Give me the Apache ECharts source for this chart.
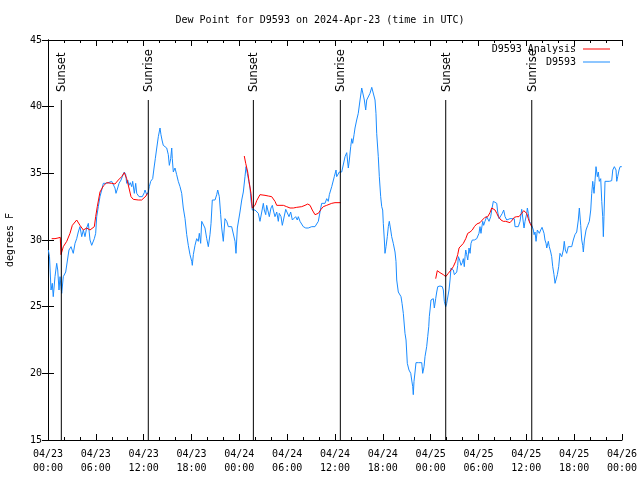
<!DOCTYPE html>
<html>
<head>
<meta charset="utf-8">
<script src="https://cdn.jsdelivr.net/npm/echarts@6/dist/echarts.min.js"></script>
<style>html,body{margin:0;padding:0;background:#fff;}#c{width:640px;height:480px;}</style>
</head>
<body>
<div id="c"></div>
<script>
// Hours since 2024-04-23 00:00 UTC
const tickLabels = ['04/23\n00:00','04/23\n06:00','04/23\n12:00','04/23\n18:00','04/24\n00:00','04/24\n06:00','04/24\n12:00','04/24\n18:00','04/25\n00:00','04/25\n06:00','04/25\n12:00','04/25\n18:00','04/26\n00:00'];
const sunHours = [1.67, 12.58, 25.76, 36.67, 49.89, 60.68];
const sunNames = ['Sunset','Sunrise','Sunset','Sunrise','Sunset','Sunrise'];

const obsHours = [0.04,0.19,0.38,0.54,0.66,0.88,1.09,1.22,1.38,1.51,1.63,1.72,1.92,2.22,2.47,2.63,2.89,3.17,3.39,3.60,3.80,4.01,4.23,4.43,4.64,4.85,5.06,5.27,5.48,5.81,5.98,6.11,6.31,6.52,6.74,6.94,7.15,7.36,7.56,7.99,8.19,8.40,8.53,8.74,8.91,9.16,9.32,9.57,9.75,9.87,10.00,10.16,10.32,10.50,10.62,10.83,11.00,11.13,11.42,11.67,11.83,12.08,12.17,12.38,12.58,12.71,12.88,13.13,13.30,13.46,13.64,13.84,14.05,14.17,14.30,14.46,14.68,14.89,15.09,15.22,15.39,15.52,15.59,15.72,15.93,16.06,16.14,16.34,16.56,16.77,16.97,17.19,17.40,17.60,17.81,18.03,18.10,18.23,18.44,18.65,18.85,18.98,19.15,19.28,19.48,19.69,19.91,20.11,20.32,20.45,20.61,20.95,21.16,21.29,21.49,21.66,21.79,21.99,22.20,22.42,22.62,23.04,23.24,23.46,23.58,23.75,24.08,24.30,24.50,24.71,24.84,25.00,25.13,25.34,25.46,25.63,25.76,25.97,26.18,26.38,26.59,26.81,27.01,27.13,27.31,27.43,27.63,27.76,27.97,28.14,28.26,28.47,28.69,28.89,29.01,29.23,29.39,29.64,29.82,30.07,30.23,30.44,30.65,30.86,31.07,31.27,31.40,31.61,31.82,32.02,32.33,32.65,33.08,33.28,33.49,33.71,33.91,34.12,34.33,34.53,34.75,34.96,35.16,35.29,35.50,35.59,35.79,35.91,36.13,36.21,36.42,36.54,36.84,37.04,37.26,37.47,37.67,37.80,37.97,38.10,38.22,38.39,38.51,38.72,38.92,39.14,39.35,39.55,39.68,39.85,39.98,40.18,40.39,40.61,40.81,41.02,41.14,41.23,41.43,41.56,41.73,41.86,41.98,42.06,42.19,42.27,42.40,42.56,42.69,42.81,42.99,43.11,43.31,43.53,43.65,43.74,43.94,44.15,44.28,44.41,44.57,44.78,44.91,45.07,45.28,45.50,45.62,45.75,45.82,45.91,46.04,46.16,46.45,46.88,47.00,47.17,47.29,47.50,47.63,47.76,47.83,47.92,48.04,48.33,48.46,48.63,48.76,48.89,49.17,49.46,49.59,49.71,49.89,50.01,50.14,50.30,50.43,50.55,50.72,50.84,50.97,51.14,51.27,51.39,51.47,51.64,51.81,51.97,52.10,52.22,52.31,52.40,52.52,52.65,52.81,52.94,53.06,53.22,53.48,53.56,53.78,53.90,54.06,54.19,54.31,54.40,54.53,54.65,54.81,55.03,55.16,55.32,55.53,55.66,55.86,56.07,56.29,56.41,56.58,56.82,56.99,57.16,57.33,57.54,57.74,57.95,58.17,58.49,58.58,58.79,58.99,59.21,59.42,59.71,59.84,60.05,60.13,60.25,60.38,60.55,60.68,60.88,60.97,61.09,61.22,61.38,61.50,61.63,61.80,61.97,62.13,62.22,62.34,62.47,62.56,62.76,62.88,63.06,63.18,63.31,63.47,63.60,63.72,63.89,64.06,64.22,64.44,64.64,64.76,64.89,65.06,65.26,65.69,65.89,66.10,66.32,66.52,66.65,66.82,66.95,67.07,67.15,67.28,67.49,67.70,67.90,68.08,68.20,68.33,68.40,68.49,68.61,68.74,68.91,69.03,69.16,69.33,69.46,69.58,69.66,69.74,69.87,70.08,70.41,70.71,70.84,71.04,71.25,71.34,71.46,71.63,71.76,71.97];
const obsValues = [29.25,28.75,26.25,26.75,25.75,27.25,28.25,27.75,26.25,27.25,26.5,26.0,27.25,27.6,27.75,29.25,29.5,29.0,29.75,30.1,30.6,31.0,30.25,30.75,30.25,30.9,31.25,30.0,29.6,30.1,30.5,31.75,32.5,33.25,33.75,34.25,34.4,34.25,34.4,34.4,34.25,33.9,33.5,33.9,34.25,34.5,34.75,35.1,34.9,34.25,34.5,34.1,34.3,34.0,34.4,33.5,34.25,33.5,33.25,33.1,33.25,33.55,33.75,33.4,33.6,34.0,34.4,34.6,35.4,36.1,36.9,37.75,38.4,37.9,37.5,37.1,37.0,36.9,36.4,35.6,36.1,36.9,36.1,35.1,35.4,35.5,34.9,34.4,34.0,33.5,32.4,31.6,30.4,29.6,28.9,28.4,28.1,28.9,29.6,30.1,29.9,30.5,29.75,31.4,31.4,30.9,30.1,29.5,30.4,31.25,33.0,33.0,33.4,33.75,33.25,31.9,30.9,29.9,31.6,31.4,31.0,31.0,31.0,29.9,29.0,30.9,32.1,33.0,33.6,34.75,35.5,35.0,34.6,33.9,33.0,32.25,32.4,32.25,32.3,32.0,31.4,32.1,32.75,32.25,31.9,32.6,32.1,31.75,32.4,32.6,32.25,31.75,32.1,31.4,32.0,31.75,31.1,31.0,32.3,32.25,31.75,32.1,31.5,31.6,31.75,31.5,31.75,31.4,31.25,31.0,30.9,30.9,31.0,30.9,31.0,30.9,31.4,32.1,32.75,32.6,32.75,33.1,32.9,33.4,33.4,34.0,34.0,34.75,35.25,34.75,34.9,35.1,35.1,35.25,36.25,36.55,35.4,36.0,37.0,37.6,37.25,37.9,38.4,39.0,39.5,40.5,41.4,41.4,40.5,39.75,40.5,40.6,41.0,41.45,41.4,40.5,39.5,38.0,36.25,34.75,33.25,32.5,32.25,31.25,30.0,29.0,29.5,30.25,31.0,31.4,30.75,30.25,29.75,29.1,28.4,27.0,26.1,26.0,25.75,25.25,24.5,23.0,22.5,20.75,20.25,20.0,19.5,19.0,18.4,19.4,20.1,20.8,20.8,20.8,20.0,20.5,21.25,22.0,22.75,23.5,24.25,24.75,25.5,25.6,24.9,25.6,26.1,26.5,26.55,26.5,26.25,25.4,25.0,25.25,25.1,26.25,27.0,27.9,28.0,27.75,27.4,27.3,27.6,28.1,28.75,28.5,28.1,28.3,28.6,28.0,28.75,29.25,28.9,28.5,29.4,29.0,29.75,30.0,30.0,30.1,30.1,30.25,30.5,31.0,30.5,30.9,31.4,31.1,31.4,31.75,31.6,31.4,31.75,32.25,32.9,33.0,32.75,32.1,31.6,31.5,32.0,32.25,31.75,31.5,31.6,31.6,31.75,31.6,31.0,30.9,31.0,31.4,32.3,30.9,31.4,32.0,32.4,32.0,31.4,31.4,31.1,30.75,30.4,30.6,29.9,30.75,30.6,30.5,30.75,30.95,31.05,30.5,30.0,29.75,29.4,29.9,29.5,29.1,28.75,28.0,27.4,26.75,26.9,27.4,28.0,29.0,28.75,29.25,29.9,29.25,29.0,29.5,29.5,30.0,30.4,30.6,31.5,32.4,31.1,30.0,29.6,29.1,30.0,30.75,31.1,31.4,32.25,33.5,34.4,34.0,33.5,34.4,35.5,34.75,35.1,34.4,34.6,32.9,31.75,30.25,31.75,34.4,34.4,34.4,34.45,35.25,35.5,35.25,34.4,34.75,35.25,35.5,35.5];

const anaHours = [0.46,0.88,1.25,1.54,1.63,1.92,2.35,2.76,3.05,3.60,4.01,4.43,4.85,5.27,5.48,5.81,5.98,6.18,6.52,6.94,7.36,7.99,8.40,8.82,9.24,9.57,9.87,10.16,10.41,10.70,11.33,11.75,11.95,12.29,12.46,
  18.0,
  24.62,24.80,25.05,25.22,25.46,25.63,25.76,25.97,26.18,26.59,27.22,27.63,28.06,28.26,28.47,28.69,29.10,29.52,29.94,30.36,30.77,31.20,31.82,32.24,32.58,32.87,33.15,33.49,33.71,33.91,34.25,34.53,34.96,35.59,36.00,36.75,
  42.0,
  48.63,48.83,49.17,49.59,49.89,50.21,50.55,50.84,51.14,51.39,51.56,51.81,52.10,52.40,52.65,52.94,53.22,53.48,53.78,54.19,54.48,54.81,55.16,55.44,55.66,55.86,56.07,56.29,56.49,56.82,57.11,57.41,57.66,57.95,58.24,58.49,58.79,59.08,59.42,59.67,59.84,60.05,60.25,60.46,60.68];
const anaValues = [30.1,30.1,30.15,30.2,28.9,29.5,29.9,30.5,31.1,31.5,31.1,30.75,30.9,30.75,30.8,31.0,31.75,32.5,33.6,34.05,34.3,34.25,34.2,34.5,34.75,35.05,34.6,33.9,33.25,33.05,33.0,33.0,33.1,33.3,33.5,
  null,
  36.3,35.75,35.1,34.4,33.5,32.4,32.25,32.6,32.95,33.4,33.35,33.3,33.25,33.1,32.9,32.6,32.6,32.6,32.5,32.4,32.4,32.45,32.5,32.6,32.7,32.6,32.25,31.9,31.75,32.0,32.3,32.5,32.6,32.75,32.8,32.8,
  null,
  27.1,27.7,27.55,27.4,27.25,27.5,27.75,28.0,28.4,28.9,29.4,29.55,29.75,30.1,30.5,30.6,30.75,31.0,31.2,31.3,31.5,31.7,31.75,32.05,32.4,32.5,32.25,32.0,31.75,31.5,31.4,31.4,31.25,31.3,31.5,31.7,31.75,31.75,32.0,32.2,32.17,32.0,31.6,31.25,31.0];

const FONT = 'DejaVu Sans Mono';
const chart = echarts.init(document.getElementById('c'), null, {renderer: 'canvas'});

const axisCommonY = {
  type: 'value', min: 15, max: 45, interval: 5,
  axisLine: {show: true, lineStyle: {color: '#000', width: 1}},
  axisTick: {show: true, inside: true, length: 6, lineStyle: {color: '#000'}},
  minorTick: {show: false},
  splitLine: {show: false}
};
const axisCommonX = {
  type: 'value', min: 0, max: 72, interval: 6,
  axisLine: {show: true, onZero: false, lineStyle: {color: '#000', width: 1}},
  axisTick: {show: true, inside: true, length: 6, lineStyle: {color: '#000'}},
  minorTick: {show: true, splitNumber: 3, length: 3, lineStyle: {color: '#000'}},
  splitLine: {show: false}
};

chart.setOption({
  animation: false,
  backgroundColor: '#fff',
  title: {
    text: 'Dew Point for D9593 on 2024-Apr-23 (time in UTC)',
    left: 'center', top: 10,
    textStyle: {fontFamily: FONT, fontSize: 10, fontWeight: 'normal', color: '#000'}
  },
  legend: {
    orient: 'vertical', align: 'right', right: 25, top: 38,
    itemWidth: 27, itemHeight: 1, itemGap: 1, icon: 'rect',
    data: ['D9593 Analysis', 'D9593'],
    textStyle: {fontFamily: FONT, fontSize: 10, color: '#000', lineHeight: 12, padding: [0, 2, 0, 0]}
  },
  grid: {left: 48, right: 18, top: 40, bottom: 40, containLabel: false, outerBoundsMode: 'none'},
  xAxis: [
    Object.assign({}, axisCommonX, {
      position: 'bottom',
      axisLabel: {
        show: true, color: '#000', fontFamily: FONT, fontSize: 10, lineHeight: 14, margin: 7,
        formatter: function (v) { return tickLabels[Math.round(v / 6)] || ''; }
      }
    }),
    Object.assign({}, axisCommonX, {position: 'top', axisLabel: {show: false}})
  ],
  yAxis: [
    Object.assign({}, axisCommonY, {
      position: 'left',
      name: 'degrees F', nameLocation: 'middle', nameGap: 33, nameRotate: 90,
      nameTextStyle: {fontFamily: FONT, fontSize: 10, color: '#000'},
      axisLabel: {show: true, color: '#000', fontFamily: FONT, fontSize: 10, margin: 6}
    }),
    Object.assign({}, axisCommonY, {position: 'right', axisLabel: {show: false}})
  ],
  series: [
    {
      name: 'D9593', type: 'line', xAxisIndex: 0, yAxisIndex: 0,
      data: obsHours.map((h, i) => [h, obsValues[i]]),
      symbol: 'none', lineStyle: {color: '#1a8cff', width: 1}, itemStyle: {color: '#1a8cff'},
      z: 2
    },
    {
      name: 'D9593 Analysis', type: 'line', xAxisIndex: 0, yAxisIndex: 0,
      data: anaHours.map((h, i) => [h, anaValues[i] === null ? null : anaValues[i]]),
      connectNulls: false,
      symbol: 'none', lineStyle: {color: '#ff0000', width: 1}, itemStyle: {color: '#ff0000'},
      z: 3
    },
    {
      name: 'sun', type: 'custom', xAxisIndex: 0, yAxisIndex: 0,
      data: sunHours.map(h => [h]),
      clip: false, silent: true, z: 4,
      renderItem: function (params, api) {
        const h = api.value(0);
        const p0 = api.coord([h, 15]);
        const p1 = api.coord([h, 40.5]);
        const pt = api.coord([h, 41.1]);
        return {
          type: 'group',
          children: [
            {type: 'line', shape: {x1: p0[0], y1: p0[1], x2: p1[0], y2: p1[1]}, style: {stroke: '#000', lineWidth: 1}},
            {type: 'text', x: pt[0] + 1, y: pt[1], rotation: Math.PI / 2,
             style: {text: sunNames[params.dataIndex], fill: '#000', font: '11.5px "DejaVu Sans", sans-serif', align: 'left', verticalAlign: 'middle'}}
          ]
        };
      }
    }
  ]
});
</script>
</body>
</html>
